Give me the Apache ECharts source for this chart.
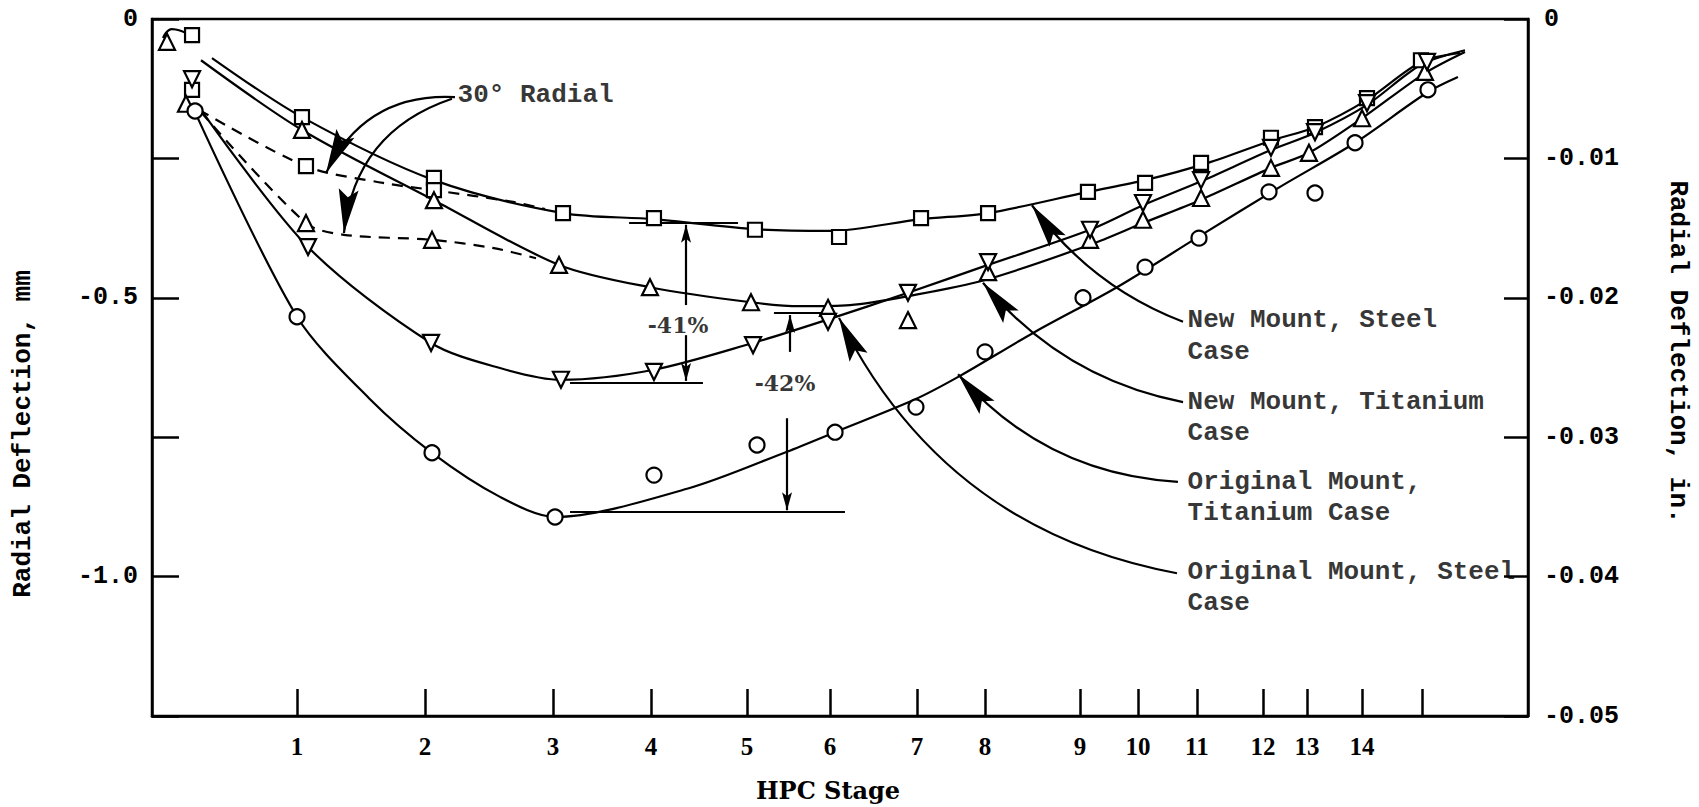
<!DOCTYPE html>
<html>
<head>
<meta charset="utf-8">
<script src="https://cdn.jsdelivr.net/npm/echarts@6/dist/echarts.min.js"></script>
<style>html,body{margin:0;padding:0;background:#fff}#c{width:1699px;height:807px}</style>
</head>
<body>
<div id="c"></div>
<script>
// x = axial position along the HPC (0..100 % of plotted length); y = radial deflection, mm
const stageTicks  = [10.54, 19.84, 29.14, 36.26, 43.24, 49.27, 55.60, 60.54, 67.44, 71.66, 75.94, 80.74, 83.94, 87.94, 92.30];
const stageLabels = ['1','2','3','4','5','6','7','8','9','10','11','12','13','14',''];

// measured points (markers)
const newSteelPts = [[2.91,-0.029],[2.91,-0.127],[10.90,-0.176],[20.49,-0.285],[29.87,-0.348],[36.48,-0.357],[43.82,-0.378],[49.93,-0.391],[55.89,-0.357],[60.76,-0.348],[68.02,-0.310],[72.17,-0.294],[76.24,-0.258],[81.32,-0.213],[84.52,-0.194],[88.30,-0.142],[92.22,-0.074]];
const newTiPts = [[1.09,-0.041],[2.47,-0.152],[10.90,-0.199],[20.49,-0.325],[29.58,-0.441],[36.19,-0.481],[43.53,-0.508],[49.13,-0.518],[54.94,-0.540],[60.76,-0.454],[68.17,-0.396],[72.02,-0.360],[76.24,-0.321],[81.32,-0.267],[84.08,-0.240],[87.94,-0.178],[92.51,-0.095]];
const origSteelPts = [[2.91,-0.108],[11.34,-0.409],[20.28,-0.581],[29.72,-0.647],[36.48,-0.633],[43.68,-0.585],[49.13,-0.543],[54.94,-0.491],[60.76,-0.436],[68.17,-0.378],[72.02,-0.330],[76.24,-0.289],[81.32,-0.231],[84.52,-0.203],[88.30,-0.151],[92.66,-0.077]];
const origTiPts = [[3.13,-0.165],[10.54,-0.534],[20.35,-0.778],[29.29,-0.893],[36.48,-0.818],[43.97,-0.764],[49.64,-0.741],[55.52,-0.696],[60.54,-0.597],[67.66,-0.500],[72.17,-0.445],[76.09,-0.393],[81.18,-0.310],[84.52,-0.312],[87.43,-0.222],[92.73,-0.127]];
const radialSteelPts = [[11.19,-0.264],[20.49,-0.307]];
const radialTiPts = [[11.19,-0.366],[20.35,-0.396]];

// faired curves
const newSteelCurve = [[4.36,-0.070],[10.90,-0.176],[20.49,-0.289],[29.87,-0.348],[36.48,-0.359],[43.82,-0.377],[49.27,-0.380],[55.89,-0.359],[60.76,-0.348],[68.02,-0.310],[72.17,-0.289],[76.74,-0.258],[81.47,-0.217],[84.52,-0.194],[88.30,-0.145],[92.22,-0.077],[95.06,-0.061]];
const newTiCurve = [[3.56,-0.074],[10.90,-0.199],[20.49,-0.325],[29.58,-0.441],[36.19,-0.481],[43.53,-0.508],[47.09,-0.515],[50.73,-0.513],[54.94,-0.497],[60.54,-0.468],[68.17,-0.405],[72.02,-0.366],[76.16,-0.325],[81.32,-0.267],[84.08,-0.240],[87.94,-0.178],[92.51,-0.097],[95.42,-0.059]];
const origSteelCurve = [[3.42,-0.158],[11.34,-0.409],[20.28,-0.581],[25.29,-0.626],[29.72,-0.647],[36.48,-0.629],[43.68,-0.581],[48.98,-0.540],[54.94,-0.491],[60.76,-0.441],[68.17,-0.378],[72.02,-0.334],[76.16,-0.292],[81.32,-0.235],[84.52,-0.204],[88.30,-0.154],[92.22,-0.082],[95.42,-0.056]];
const origTiCurve = [[3.13,-0.167],[10.54,-0.534],[15.77,-0.680],[20.35,-0.778],[25.29,-0.857],[29.29,-0.893],[38.95,-0.842],[46.15,-0.776],[49.64,-0.741],[55.38,-0.683],[58.72,-0.640],[64.03,-0.563],[70.13,-0.481],[76.16,-0.389],[81.98,-0.301],[87.43,-0.222],[92.73,-0.131],[94.91,-0.104]];
const radialSteelCurve = [[3.42,-0.163],[11.19,-0.264],[16.79,-0.294],[20.49,-0.307],[26.24,-0.328],[28.56,-0.341]];
const radialTiCurve = [[3.56,-0.167],[11.19,-0.366],[13.95,-0.387],[20.35,-0.396],[24.85,-0.411],[27.91,-0.429]];
const frontArc = [[0.80,-0.034],[1.45,-0.018],[2.18,-0.022],[2.54,-0.027]];

// annotation reference levels and arrows
const refLines = [[[34.67,-0.366],[42.59,-0.366]],[[30.38,-0.652],[40.04,-0.652]],[[45.20,-0.527],[48.69,-0.527]],[[30.38,-0.884],[50.36,-0.884]]];
const leaderFrom = [[22.02,-0.140],[21.80,-0.143],[74.93,-0.543],[74.93,-0.687],[74.56,-0.830],[74.49,-0.994]];
const leaderTo   = [[12.65,-0.276],[13.95,-0.384],[63.95,-0.334],[60.39,-0.473],[58.58,-0.637],[49.93,-0.536]];
const leaderCurve = [-0.33,-0.32,0.15,0.18,0.21,0.25];
const dimFrom = [[38.81,-0.513],[38.81,-0.567],[46.37,-0.597],[46.15,-0.716]];
const dimTo   = [[38.81,-0.369],[38.81,-0.649],[46.37,-0.531],[46.15,-0.881]];

const noteTexts = ['New Mount, Steel','Case','New Mount, Titanium','Case','Original Mount,','Titanium Case','Original Mount, Steel','Case','30° Radial'];
const notePos = [[75.22,-0.540],[75.22,-0.597],[75.22,-0.687],[75.22,-0.742],[75.22,-0.830],[75.22,-0.886],[75.22,-0.992],[75.22,-1.047],[22.17,-0.136]];
const pctTexts = ['-41%','-42%'];
const pctPos = [[38.23,-0.549],[46.00,-0.653]];

const MONO = '"Liberation Mono", "Courier New", monospace';
const SERIF = '"Liberation Serif", serif';
const DSERIF = '"DejaVu Serif", serif';
const BLACK = '#000';

const chart = echarts.init(document.getElementById('c'), null, {renderer: 'svg'});

function curve(data, dashed) {
  return {type: 'line', data: data, showSymbol: false, smooth: 0.3, silent: true, z: 2,
    lineStyle: {color: BLACK, width: 2.2, type: dashed ? [11, 8] : 'solid'}};
}
function markers(data, symbol, size, rotate) {
  return {type: 'scatter', data: data, symbol: symbol, symbolSize: size, symbolRotate: rotate || 0, silent: true, z: 4,
    itemStyle: {color: '#fff', borderColor: BLACK, borderWidth: 2.2, opacity: 1}};
}
// arrowheads: tip sits at the centre of the symbol box, pointing up before rotation
const bigArrow = 'path://M10,44L20,88L10,80L0,88ZM10,0L10.01,0.02L9.99,0.02Z';
const smallArrow = 'path://M5,18L10,36L5,32L0,36ZM5,0L5.01,0.02L4.99,0.02Z';

const option = {
  animation: false,
  backgroundColor: '#fff',
  grid: {left: 152, right: 171, top: 19, bottom: 91, show: true, borderColor: BLACK, borderWidth: 2.5, backgroundColor: 'transparent'},
  xAxis: {
    type: 'value', min: 0, max: 100,
    axisLine: {show: true, onZero: false, lineStyle: {color: BLACK, width: 2.5}},
    axisTick: {show: true, inside: true, length: 27, customValues: stageTicks, lineStyle: {color: BLACK, width: 2.5}},
    axisLabel: {show: true, customValues: stageTicks, margin: 18, color: BLACK, fontFamily: SERIF, fontWeight: 'bold', fontSize: 25,
      formatter: function (v) { const i = stageTicks.findIndex(t => Math.abs(t - v) < 1e-6); return i >= 0 ? stageLabels[i] : ''; }},
    splitLine: {show: false}
  },
  yAxis: [{
    type: 'value', min: -1.25, max: 0, interval: 0.25, position: 'left',
    axisLine: {show: true, onZero: false, lineStyle: {color: BLACK, width: 2.5}},
    axisTick: {show: true, inside: true, length: 27, lineStyle: {color: BLACK, width: 2.5}},
    axisLabel: {margin: 14, color: BLACK, fontFamily: MONO, fontWeight: 'bold', fontSize: 25,
      formatter: function (v) { if (Math.abs(v) < 1e-9) return '0'; return Math.abs(v * 2 - Math.round(v * 2)) < 1e-9 ? v.toFixed(1) : ''; }},
    splitLine: {show: false}
  }, {
    type: 'value', min: -0.05, max: 0, interval: 0.01, position: 'right',
    axisLine: {show: true, onZero: false, lineStyle: {color: BLACK, width: 2.5}},
    axisTick: {show: true, inside: true, length: 24, lineStyle: {color: BLACK, width: 2.5}},
    axisLabel: {margin: 16, color: BLACK, fontFamily: MONO, fontWeight: 'bold', fontSize: 25,
      formatter: function (v) { return Math.abs(v) < 1e-9 ? '0' : v.toFixed(2); }},
    splitLine: {show: false}
  }],
  graphic: [
    {type: 'text', x: 23, y: 434, rotation: Math.PI / 2, silent: true,
      style: {text: 'Radial Deflection, mm', fill: BLACK, fontFamily: MONO, fontWeight: 'bold', fontSize: 26, align: 'center', verticalAlign: 'middle'}},
    {type: 'text', x: 1678, y: 352, rotation: -Math.PI / 2, silent: true,
      style: {text: 'Radial Deflection, in.', fill: BLACK, fontFamily: MONO, fontWeight: 'bold', fontSize: 26, align: 'center', verticalAlign: 'middle'}},
    {type: 'text', x: 828, y: 790, silent: true,
      style: {text: 'HPC Stage', fill: BLACK, fontFamily: DSERIF, fontWeight: 'bold', fontSize: 24, align: 'center', verticalAlign: 'middle'}}
  ],
  series: [
    curve(newSteelCurve), curve(newTiCurve), curve(origSteelCurve), curve(origTiCurve),
    curve(radialSteelCurve, true), curve(radialTiCurve, true),
    Object.assign(curve(frontArc), {smooth: 0.5}),
    {type: 'lines', coordinateSystem: 'cartesian2d', silent: true, z: 3, symbol: 'none',
      lineStyle: {color: BLACK, width: 2.2, opacity: 1},
      data: refLines.map(c => ({coords: c}))},
    {type: 'lines', coordinateSystem: 'cartesian2d', silent: true, z: 3, symbol: 'none',
      lineStyle: {color: BLACK, width: 2.2, opacity: 1},
      data: leaderFrom.map((f, i) => ({coords: [f, leaderTo[i]], lineStyle: {curveness: leaderCurve[i]}}))},
    {type: 'lines', coordinateSystem: 'cartesian2d', silent: true, z: 3, symbol: 'none',
      lineStyle: {color: BLACK, width: 2.2, opacity: 1},
      data: dimFrom.map((f, i) => ({coords: [f, dimTo[i]]}))},
    markers(newSteelPts.concat(radialSteelPts), 'rect', 14),
    markers(newTiPts.concat(radialTiPts), 'triangle', 16),
    markers(origSteelPts, 'triangle', 16, 180),
    markers(origTiPts, 'circle', 15),
    {type: 'scatter', silent: true, z: 5, symbolSize: 1, itemStyle: {color: 'rgba(0,0,0,0)'},
      data: notePos.map((p, i) => ({value: p, t: noteTexts[i]})),
      label: {show: true, position: 'right', distance: 0, color: BLACK, fontFamily: MONO, fontWeight: 'bold', fontSize: 26,
        formatter: p => p.data.t}},
    {type: 'scatter', silent: true, z: 5, symbolSize: 1, itemStyle: {color: 'rgba(0,0,0,0)'},
      data: pctPos.map((p, i) => ({value: p, t: pctTexts[i]})),
      label: {show: true, position: 'inside', color: BLACK, fontFamily: DSERIF, fontWeight: 'bold', fontSize: 22,
        formatter: p => p.data.t}},
    {id: 'bigHeads', type: 'scatter', silent: true, z: 6, symbol: bigArrow, symbolSize: [20, 88],
      itemStyle: {color: BLACK, borderWidth: 0, opacity: 1}, data: []},
    {id: 'smallHeads', type: 'scatter', silent: true, z: 6, symbol: smallArrow, symbolSize: [10, 36],
      itemStyle: {color: BLACK, borderWidth: 0, opacity: 1}, data: []}
  ]
};
chart.setOption(option);

// orient each arrowhead along the end tangent of its (curved) leader, in pixel space
function headAngle(from, to, c) {
  const p1 = chart.convertToPixel({xAxisIndex: 0, yAxisIndex: 0}, from);
  const p2 = chart.convertToPixel({xAxisIndex: 0, yAxisIndex: 0}, to);
  const cp = [(p1[0] + p2[0]) / 2 - (p1[1] - p2[1]) * c, (p1[1] + p2[1]) / 2 - (p2[0] - p1[0]) * c];
  const tx = p2[0] - cp[0], ty = p2[1] - cp[1];
  const theta = Math.atan2(ty, tx) * 180 / Math.PI;
  return -(theta + 90);
}
chart.setOption({series: [
  {id: 'bigHeads', data: leaderTo.map((t, i) => ({value: t, symbolRotate: headAngle(leaderFrom[i], t, leaderCurve[i])}))},
  {id: 'smallHeads', data: dimTo.map((t, i) => ({value: t, symbolRotate: headAngle(dimFrom[i], t, 0)}))}
]});
</script>
</body>
</html>
